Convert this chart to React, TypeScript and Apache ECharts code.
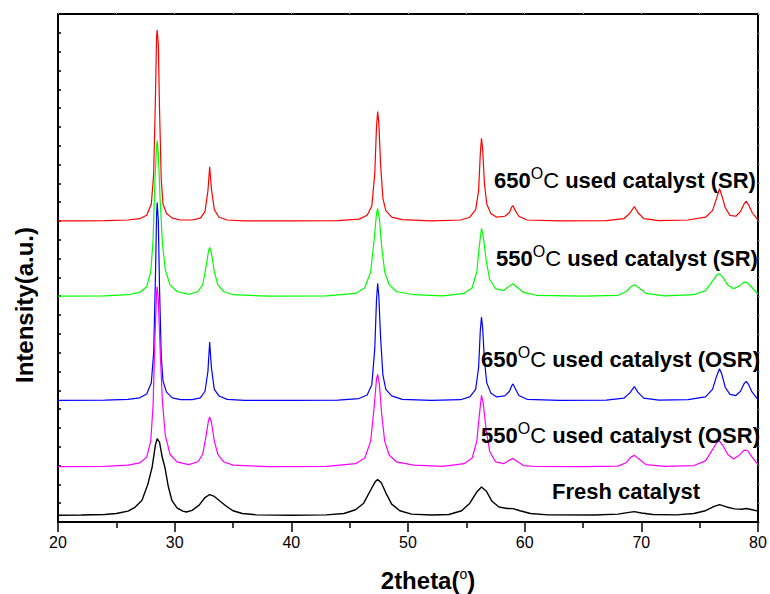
import { useEffect, useRef } from "react";
import * as echarts from "echarts";

const seriesNames = [
  "650 used catalyst (SR)",
  "550 used catalyst (SR)",
  "650 used catalyst (OSR)",
  "550 used catalyst (OSR)",
  "Fresh catalyst",
];
const seriesColors = ["#ff0000", "#00ff00", "#0000ff", "#ff00ff", "#000000"];

const red650SR: number[][] = [
  [20, 16.0], [22, 16.0], [24, 16.02], [26, 16.05], [27, 16.12], [27.6, 16.3], [28.0, 16.9], [28.2, 18.5],
  [28.35, 22.5], [28.45, 25.8], [28.5, 26.15], [28.6, 25.4], [28.7, 22.0], [28.85, 18.2], [29.0, 16.9],
  [29.3, 16.4], [29.8, 16.15], [30.5, 16.05], [31.5, 16.05], [32.2, 16.15], [32.6, 16.5], [32.85, 17.6],
  [33.0, 18.88], [33.15, 17.7], [33.4, 16.6], [33.8, 16.2], [34.5, 16.05], [36, 16.0], [40, 16.0], [44, 16.02],
  [45.8, 16.1], [46.5, 16.3], [46.9, 16.8], [47.15, 18.5], [47.3, 21.0], [47.4, 21.81], [47.5, 21.2],
  [47.65, 19.0], [47.85, 17.2], [48.1, 16.55], [48.6, 16.2], [49.5, 16.07], [52, 16.0], [54.5, 16.05],
  [55.3, 16.2], [55.8, 16.6], [56.05, 17.6], [56.2, 19.6], [56.3, 20.39], [56.4, 19.8], [56.55, 18.0],
  [56.75, 16.9], [57.1, 16.4], [57.6, 16.2], [58.3, 16.25], [58.7, 16.45], [58.9, 16.75], [59.0, 16.82],
  [59.15, 16.6], [59.5, 16.25], [60.2, 16.05], [63, 16.0], [67, 16.02], [68.5, 16.12], [69.0, 16.4],
  [69.4, 16.77], [69.7, 16.45], [70.2, 16.12], [71.5, 16.02], [74, 16.05], [75.5, 16.2], [76.1, 16.55],
  [76.45, 17.2], [76.7, 17.71], [76.9, 17.35], [77.2, 16.7], [77.6, 16.3], [78.1, 16.25], [78.5, 16.5],
  [78.8, 16.9], [79.0, 17.05], [79.2, 16.85], [79.5, 16.45], [80, 16.05],
];

const green550SR: number[][] = [
  [20, 12.0], [24, 12.02], [26, 12.08], [27, 12.2], [27.6, 12.5], [27.95, 13.3], [28.15, 15.0], [28.3, 18.0],
  [28.45, 20.0], [28.5, 20.27], [28.6, 19.6], [28.75, 17.2], [28.95, 14.8], [29.2, 13.4], [29.6, 12.6],
  [30.2, 12.25], [31.2, 12.1], [32.0, 12.25], [32.4, 12.6], [32.7, 13.6], [32.9, 14.4], [33.0, 14.6],
  [33.15, 14.3], [33.4, 13.3], [33.7, 12.6], [34.2, 12.25], [35, 12.08], [38, 12.0], [43, 12.02],
  [45.5, 12.15], [46.3, 12.45], [46.8, 13.3], [47.1, 15.0], [47.3, 16.4], [47.4, 16.66], [47.55, 16.1],
  [47.75, 14.6], [48.0, 13.3], [48.4, 12.6], [49, 12.25], [50.5, 12.08], [53, 12.02], [54.8, 12.15],
  [55.5, 12.45], [55.9, 13.3], [56.1, 14.6], [56.3, 15.61], [56.45, 15.2], [56.7, 13.9], [57.0, 12.9],
  [57.5, 12.4], [58.2, 12.3], [58.6, 12.5], [59.0, 12.66], [59.4, 12.45], [59.9, 12.2], [61, 12.05],
  [65, 12.0], [68, 12.05], [68.7, 12.25], [69.1, 12.5], [69.4, 12.61], [69.8, 12.45], [70.4, 12.15],
  [72, 12.02], [74.5, 12.08], [75.5, 12.3], [76.1, 12.8], [76.5, 13.15], [76.7, 13.19], [77.0, 13.0],
  [77.4, 12.6], [77.9, 12.4], [78.4, 12.55], [78.8, 12.75], [79.1, 12.72], [79.5, 12.45], [80, 12.1],
];

const blue650OSR: number[][] = [
  [20, 6.46], [24, 6.48], [26, 6.52], [27, 6.6], [27.6, 6.8], [28.0, 7.4], [28.2, 9.0], [28.35, 13.0],
  [28.45, 16.3], [28.5, 16.98], [28.6, 16.0], [28.7, 12.5], [28.85, 8.8], [29.0, 7.5], [29.3, 6.9],
  [29.8, 6.6], [30.5, 6.5], [31.5, 6.5], [32.2, 6.6], [32.6, 6.95], [32.85, 8.0], [33.0, 9.56], [33.15, 8.2],
  [33.4, 7.05], [33.8, 6.7], [34.5, 6.52], [36, 6.46], [40, 6.46], [44, 6.48], [45.8, 6.56], [46.5, 6.75],
  [46.9, 7.3], [47.15, 9.2], [47.3, 11.8], [47.4, 12.68], [47.5, 12.0], [47.65, 9.8], [47.85, 7.8],
  [48.1, 7.05], [48.6, 6.7], [49.5, 6.52], [52, 6.46], [54.5, 6.5], [55.3, 6.65], [55.8, 7.05], [56.05, 8.2],
  [56.2, 10.2], [56.3, 10.89], [56.4, 10.3], [56.55, 8.6], [56.75, 7.4], [57.1, 6.85], [57.6, 6.65],
  [58.3, 6.7], [58.7, 6.95], [58.9, 7.25], [59.0, 7.34], [59.15, 7.15], [59.5, 6.72], [60.2, 6.52],
  [63, 6.46], [67, 6.48], [68.5, 6.58], [69.0, 6.85], [69.4, 7.2], [69.7, 6.9], [70.2, 6.58], [71.5, 6.48],
  [74, 6.5], [75.5, 6.65], [76.1, 7.05], [76.45, 7.75], [76.7, 8.15], [76.9, 7.85], [77.2, 7.15],
  [77.6, 6.78], [78.1, 6.72], [78.5, 6.95], [78.8, 7.35], [79.0, 7.47], [79.2, 7.3], [79.5, 6.9], [80, 6.5],
];

const magenta550OSR: number[][] = [
  [20, 2.94], [24, 2.96], [26, 3.02], [27, 3.14], [27.6, 3.45], [27.95, 4.3], [28.15, 6.2], [28.3, 9.6],
  [28.45, 12.2], [28.5, 12.52], [28.6, 11.8], [28.75, 9.2], [28.95, 6.4], [29.2, 4.6], [29.6, 3.6],
  [30.2, 3.2], [31.2, 3.05], [32.0, 3.2], [32.4, 3.6], [32.7, 4.6], [32.9, 5.4], [33.0, 5.58], [33.15, 5.3],
  [33.4, 4.3], [33.7, 3.6], [34.2, 3.2], [35, 3.02], [38, 2.94], [43, 2.96], [45.5, 3.1], [46.3, 3.4],
  [46.8, 4.3], [47.1, 6.1], [47.3, 7.6], [47.4, 7.85], [47.55, 7.3], [47.75, 5.7], [48.0, 4.3], [48.4, 3.55],
  [49, 3.2], [50.5, 3.02], [53, 2.96], [54.8, 3.1], [55.5, 3.4], [55.9, 4.3], [56.1, 5.6], [56.3, 6.73],
  [56.45, 6.3], [56.7, 4.9], [57.0, 3.75], [57.5, 3.2], [58.2, 3.1], [58.6, 3.25], [59.0, 3.38],
  [59.4, 3.2], [59.9, 3.0], [61, 2.95], [65, 2.94], [68, 2.97], [68.7, 3.15], [69.1, 3.45], [69.4, 3.54],
  [69.8, 3.35], [70.4, 3.05], [72, 2.96], [74.5, 3.0], [75.5, 3.25], [76.1, 3.85], [76.5, 4.25], [76.7, 4.3],
  [77.0, 4.05], [77.4, 3.6], [77.9, 3.35], [78.4, 3.55], [78.8, 3.82], [79.1, 3.8], [79.5, 3.45], [80, 3.05],
];

const blackFresh: number[][] = [
  [20, 0.36], [22, 0.37], [24, 0.4], [25, 0.45], [26, 0.58], [26.6, 0.78], [27.2, 1.15], [27.7, 2.0],
  [28.07, 2.92], [28.35, 4.1], [28.5, 4.43], [28.7, 4.25], [28.95, 3.4], [29.16, 2.92], [29.45, 1.9],
  [29.76, 1.15], [30.2, 0.75], [30.7, 0.58], [31.0, 0.53], [31.5, 0.62], [32.1, 0.9], [32.6, 1.3],
  [33.0, 1.46], [33.4, 1.36], [33.9, 1.1], [34.4, 0.85], [35, 0.6], [35.8, 0.45], [37, 0.38], [40, 0.36],
  [43, 0.38], [44.5, 0.45], [45.5, 0.65], [46.2, 1.0], [46.8, 1.7], [47.2, 2.15], [47.4, 2.25], [47.7, 2.1],
  [48.1, 1.55], [48.6, 0.95], [49.3, 0.6], [50.3, 0.42], [52, 0.37], [53.5, 0.4], [54.6, 0.6], [55.3, 1.0],
  [55.9, 1.6], [56.3, 1.86], [56.7, 1.65], [57.2, 1.1], [57.8, 0.8], [58.5, 0.72], [59.0, 0.71], [59.6, 0.6],
  [60.5, 0.45], [62, 0.38], [66, 0.37], [68, 0.42], [68.8, 0.5], [69.4, 0.55], [70.0, 0.48], [71, 0.4],
  [73, 0.38], [74.5, 0.45], [75.5, 0.6], [76.2, 0.82], [76.7, 0.92], [77.3, 0.8], [78, 0.7], [78.6, 0.68],
  [79.0, 0.72], [79.5, 0.65], [80, 0.58],
];

const seriesData = [red650SR, green550SR, blue650OSR, magenta550OSR, blackFresh];
const seriesWidths = [1.2, 1.2, 1.2, 1.2, 1.4];

const labelTemps = ["650", "550", "650", "550"];
const labelSuffix = [" used catalyst (SR)", " used catalyst (SR)", " used catalyst (OSR)", " used catalyst (OSR)"];
const freshLabel = "Fresh catalyst";

const FONT = 'Arial, "Liberation Sans", sans-serif';

export default function App() {
  const ref = useRef<HTMLDivElement>(null);
  useEffect(() => {
    const chart = echarts.init(ref.current!, null, { renderer: "svg" });
    const rich = {
      b: { fontFamily: FONT, fontSize: 22, fontWeight: "bold", color: "#000", lineHeight: 30 },
      s: { fontFamily: FONT, fontSize: 16, color: "#000", lineHeight: 12, verticalAlign: "top" },
      c: { fontFamily: FONT, fontSize: 22, color: "#000", lineHeight: 30 },
    };
    const labelPos = [
      [494, 180],
      [496, 258],
      [481, 359],
      [481, 435],
    ];
    const graphics: any[] = labelTemps.map((t, i) => ({
      type: "text",
      x: labelPos[i][0],
      y: labelPos[i][1],
      z: 100,
      style: {
        text: `{b|${t}}{s|O}{c|C}{b|${labelSuffix[i]}}`,
        rich,
        verticalAlign: "middle",
        align: "left",
      },
    }));
    graphics.push({
      type: "text",
      x: 552,
      y: 491,
      z: 100,
      style: {
        text: freshLabel,
        fontFamily: FONT,
        fontSize: 22,
        fontWeight: "bold",
        fill: "#000",
        verticalAlign: "middle",
        align: "left",
      },
    });

    chart.setOption({
      animation: false,
      backgroundColor: "#fff",
      grid: { left: 58, right: 12, top: 14, bottom: 72, containLabel: false, outerBoundsMode: "none" },
      xAxis: [
        {
          type: "value",
          min: 20,
          max: 80,
          interval: 10,
          position: "bottom",
          name: "{b|2theta(}{s|o}{b|)}",
          nameLocation: "middle",
          nameGap: 45,
          nameTextStyle: {
            padding: [0, 0, 0, 40],
            rich: {
              b: { fontFamily: FONT, fontSize: 24, fontWeight: "bold", color: "#000", lineHeight: 26 },
              s: { fontFamily: FONT, fontSize: 14, color: "#000", lineHeight: 12, verticalAlign: "top" },
            },
          },
          axisLine: { show: true, onZero: false, lineStyle: { color: "#000", width: 2 } },
          axisTick: { show: true, inside: false, length: 10, lineStyle: { color: "#000", width: 1.5 } },
          minorTick: { show: true, splitNumber: 2, length: 6, lineStyle: { color: "#000", width: 1.5 } },
          axisLabel: { show: true, margin: 12, fontFamily: FONT, fontSize: 16, color: "#000" },
          splitLine: { show: false },
        },
        {
          type: "value",
          min: 20,
          max: 80,
          interval: 5,
          position: "top",
          axisLine: { show: true, onZero: false, lineStyle: { color: "#000", width: 2 } },
          axisTick: { show: true, inside: false, length: 2, lineStyle: { color: "#bbbbbb", width: 1 } },
          axisLabel: { show: false },
          splitLine: { show: false },
        },
      ],
      yAxis: [
        {
          type: "value",
          min: 0,
          max: 27,
          interval: 1,
          position: "left",
          name: "Intensity(a.u.)",
          nameLocation: "middle",
          nameGap: 22,
          nameTextStyle: {
            fontFamily: FONT,
            fontSize: 24,
            fontWeight: "bold",
            color: "#000",
            padding: [0, 74, 0, 0],
          },
          axisLine: { show: true, onZero: false, lineStyle: { color: "#000", width: 2 } },
          axisTick: { show: true, inside: true, length: 3, lineStyle: { color: "#000", width: 1.5 } },
          axisLabel: { show: false },
          splitLine: { show: false },
        },
        {
          type: "value",
          min: 0,
          max: 27,
          interval: 1,
          position: "right",
          axisLine: { show: true, onZero: false, lineStyle: { color: "#000", width: 2 } },
          axisTick: { show: true, inside: false, length: 2, lineStyle: { color: "#999999", width: 1 } },
          axisLabel: { show: false },
          splitLine: { show: false },
        },
      ],
      series: seriesData.map((d, i) => ({
        name: seriesNames[i],
        type: "line",
        xAxisIndex: 0,
        yAxisIndex: 0,
        data: d,
        showSymbol: false,
        symbol: "none",
        smooth: false,
        lineStyle: { color: seriesColors[i], width: seriesWidths[i] },
        z: 2 + i,
      })),
      graphic: graphics,
    });
    return () => chart.dispose();
  }, []);
  return <div ref={ref} style={{ position: "fixed", left: 0, top: 0, width: 770, height: 594 }} />;
}
